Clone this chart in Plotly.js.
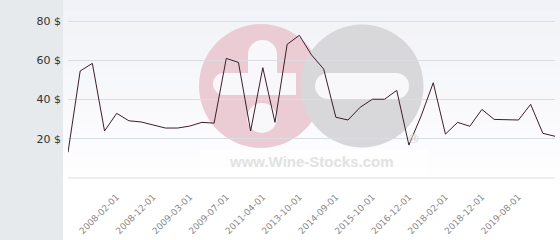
<!DOCTYPE html>
<html>
<head>
<meta charset="utf-8">
<script src="https://cdn.plot.ly/plotly-3.0.1.min.js"></script>
<style>html,body{margin:0;padding:0;background:#fff;}#chart{width:560px;height:240px;}</style>
</head>
<body>
<div id="chart"></div>
<script>
// ---- data ----
const prices = [13.1, 54.6, 58.5, 24.0, 33.0, 29.2, 28.6, 27.0, 25.5, 25.5, 26.5,
                28.4, 28.0, 61.0, 59.0, 24.0, 56.3, 28.4, 68.2, 72.8, 62.8,
                55.6, 31.0, 29.6, 36.1, 40.2, 40.2, 44.7, 16.8, 31.6, 48.6,
                22.4, 28.4, 26.4, 35.0, 29.9, 29.9, 29.6, 37.6, 22.8, 21.3];
const tickLabels = ["2008-02-01", "2008-12-01", "2009-03-01", "2009-07-01", "2011-04-01",
                    "2013-10-01", "2014-09-01", "2015-10-01", "2016-12-01", "2018-02-01",
                    "2018-12-01", "2019-08-01"];
const tickIndex = [4, 7, 10, 13, 16, 19, 22, 25, 28, 31, 34, 37];
const yTicks = [0, 20, 40, 60, 80];
const yTickText = ["", "20 $", "40 $", "60 $", "80 $"];

// ---- geometry helpers (pixel -> paper) ----
const W = 560, H = 240;
const M = {l: 68, r: 5, t: 2, b: 61};
const PW = W - M.l - M.r, PH = H - M.t - M.b;
const px = x => (x - M.l) / PW;
const py = y => (H - M.b - y) / PH;

const shapes = [];
// left grey panel
shapes.push({type: 'rect', xref: 'paper', yref: 'paper', x0: px(0), x1: px(63), y0: py(240), y1: py(0),
  fillcolor: '#e6eaed', line: {width: 0}, layer: 'below'});
// plot background gradient
const bands = 16;
for (let i = 0; i < bands; i++) {
  const t = i / (bands - 1);
  const c0 = [241, 242, 247], c1 = [254, 254, 255];
  const c = c0.map((v, k) => Math.round(v + (c1[k] - v) * t));
  const y0 = i * 178 / bands, y1 = (i + 1) * 178 / bands;
  shapes.push({type: 'rect', xref: 'paper', yref: 'paper', x0: px(63), x1: px(560), y0: py(y1 + 0.5), y1: py(y0),
    fillcolor: 'rgb(' + c.join(',') + ')', line: {width: 0}, layer: 'below'});
}
// watermark logo
function circ(cx, cy, r, col) {
  shapes.push({type: 'circle', xref: 'paper', yref: 'paper', x0: px(cx - r), x1: px(cx + r), y0: py(cy + r), y1: py(cy - r),
    fillcolor: col, line: {width: 0}, layer: 'below'});
}
function rect(x0, y0, x1, y1, col) {
  shapes.push({type: 'rect', xref: 'paper', yref: 'paper', x0: px(x0), x1: px(x1), y0: py(y1), y1: py(y0),
    fillcolor: col, line: {width: 0}, layer: 'below'});
}
const pink = '#ebccd5', grey = '#d8d8da', wm = '#f8f8fb';
circ(261, 86, 62, pink);
circ(362, 86, 61.5, grey);
// pink cut-outs
circ(262.5, 54.5, 14.5, wm);
rect(248, 54.5, 277, 86, wm);
circ(224, 84, 11, wm);
rect(224, 73, 296, 95, wm);
circ(262, 118, 15, wm);
// grey cut-out
circ(328, 86, 13, wm);
circ(396, 86, 13, wm);
rect(328, 73, 396, 99, wm);
// pale box behind watermark text
rect(200, 149, 428, 177.5, 'rgba(255,255,255,0.6)');
// baseline grid line at 0
shapes.push({type: 'line', xref: 'paper', yref: 'y', x0: 0, x1: 1, y0: 0, y1: 0,
  line: {color: '#dcdde3', width: 1}, layer: 'below'});

const annotations = [
  {xref: 'paper', yref: 'paper', x: px(311), y: py(161), xanchor: 'center', yanchor: 'middle',
   text: '<b>www.Wine-Stocks.com</b>', showarrow: false,
   font: {family: 'Liberation Sans, Arial, sans-serif', size: 15, color: '#e2e2e2'}},
  {xref: 'paper', yref: 'paper', x: px(413), y: py(138), xanchor: 'center', yanchor: 'middle',
   text: '®', showarrow: false,
   font: {family: 'DejaVu Sans, sans-serif', size: 13, color: '#d4d4d4'}}
];

const trace = {
  x: prices.map((_, i) => i),
  y: prices,
  type: 'scatter',
  mode: 'lines',
  line: {color: '#3b1e2c', width: 1},
  hoverinfo: 'skip'
};

const layout = {
  width: W, height: H,
  margin: M,
  paper_bgcolor: '#ffffff',
  plot_bgcolor: 'rgba(0,0,0,0)',
  showlegend: false,
  xaxis: {
    range: [0, prices.length - 1],
    tickmode: 'array', tickvals: tickIndex, ticktext: tickLabels,
    tickangle: -45, showgrid: false, zeroline: false, showline: false, ticks: '',
    ticklabelstandoff: 10,
    tickfont: {family: 'DejaVu Sans, sans-serif', size: 9, color: '#8a8a8a'},
    fixedrange: true
  },
  yaxis: {
    range: [-0.5, 89.8],
    tickmode: 'array', tickvals: yTicks, ticktext: yTickText,
    showgrid: true, gridcolor: '#dcdde3', gridwidth: 1, zeroline: false, showline: false, ticks: '',
    ticklabelstandoff: 6,
    tickfont: {family: 'DejaVu Sans, sans-serif', size: 11, color: '#333333'},
    fixedrange: true
  },
  shapes: shapes,
  annotations: annotations
};

Plotly.newPlot('chart', [trace], layout, {displayModeBar: false, staticPlot: true});
</script>
</body>
</html>
